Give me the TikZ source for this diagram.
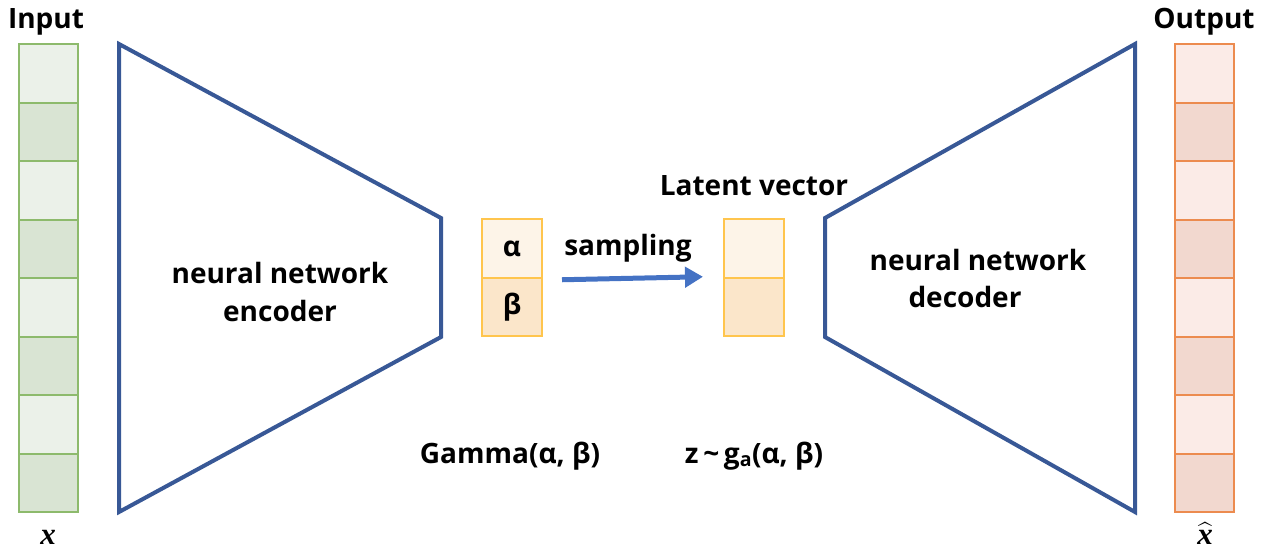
\documentclass[tikz,border=0pt]{standalone}
\usepackage{fontspec}
\usepackage{amsmath}
\usepackage{tikz}
\usetikzlibrary{positioning,arrows.meta}
\setmainfont{Open Sans}
\newfontfamily\vecfont{Liberation Serif}

\definecolor{inL}{HTML}{EBF1E9}
\definecolor{inD}{HTML}{D9E4D3}
\definecolor{inB}{HTML}{8DBA6C}
\definecolor{outL}{HTML}{FBEBE7}
\definecolor{outD}{HTML}{F2D8CF}
\definecolor{outB}{HTML}{EC8B4F}
\definecolor{latL}{HTML}{FDF4E8}
\definecolor{latD}{HTML}{FBE6CA}
\definecolor{latB}{HTML}{FFC54D}
\definecolor{netB}{HTML}{385896}
\definecolor{sampB}{HTML}{4472C4}

\begin{document}
\begin{tikzpicture}[x=1pt,y=-1pt,
	every node/.style={font=\bfseries\fontsize{28}{32}\selectfont, inner sep=0pt},
	incell/.style={draw=inB, line width=2pt, minimum width=59pt, minimum height=58.5pt},
	outcell/.style={draw=outB, line width=2pt, minimum width=59pt, minimum height=58.5pt},
	latcell/.style={draw=latB, line width=2pt, minimum width=60pt, minimum height=58.5pt},
	net/.style={draw=netB, line width=4pt},
	vec/.style={font=\vecfont\bfseries\itshape\fontsize{31}{34}\selectfont}]

	\useasboundingbox (0,0) rectangle (1261,550);

	% input vector

	\foreach \i/\f in {0/inL,1/inD,2/inL,3/inD,4/inL,5/inD,6/inL,7/inD}
		\node[incell, fill=\f] (in\i) at (48.5,73.25+58.5*\i) {};
	\node[anchor=base] (inlab) at (46,28) {Input};
	\node[vec, anchor=base] (xin) at (48,544) {x};

	% encoder and decoder

	\draw[net] (119,44) -- (441,218) -- (441,337) -- (119,512) -- cycle;
	\draw[net] (1135,44) -- (825,218) -- (825,337) -- (1135,512) -- cycle;

	\node[anchor=base] (enc1) at (280,283) {neural network};
	\node[anchor=base] (enc2) at (280,321) {encoder};
	\node[anchor=base] (dec1) at (978,270) {neural network};
	\node[anchor=base] (dec2) at (965,307) {decoder};

	% gamma parameters

	\node[latcell, fill=latL] (alpha) at (512,248.5) {α};
	\node[latcell, fill=latD] (beta) at (512,307) {β};

	% latent vector

	\node[latcell, fill=latL] (lat0) at (754,248.5) {};
	\node[latcell, fill=latD] (lat1) at (754,307) {};
	\node[anchor=base] (latlab) at (754,195) {Latent vector};

	% sampling

	\draw[draw=sampB, line width=5pt, -{Triangle[length=18pt,width=20pt]}]
		([xshift=19pt,yshift=-1pt]alpha.south east) -- ([xshift=-20pt,yshift=2pt]lat0.south west);
	\node[anchor=base] (samp) at (628,255) {sampling};

	% distributions

	\node[anchor=base] (gam) at (510,463) {Gamma(α, β)};
	\node[anchor=base] (zg) at (754,463) {z\,\textasciitilde\,g\textsubscript{a}(α, β)};

	% output vector

	\foreach \i/\f in {0/outL,1/outD,2/outL,3/outD,4/outL,5/outD,6/outL,7/outD}
		\node[outcell, fill=\f] (out\i) at (1204.5,73.25+58.5*\i) {};
	\node[anchor=base] (outlab) at (1204,28) {Output};
	\node[vec, anchor=base] (xout) at (1205,544) {$\widehat{\text{\vecfont\bfseries\itshape x}}$};

\end{tikzpicture}
\end{document}
